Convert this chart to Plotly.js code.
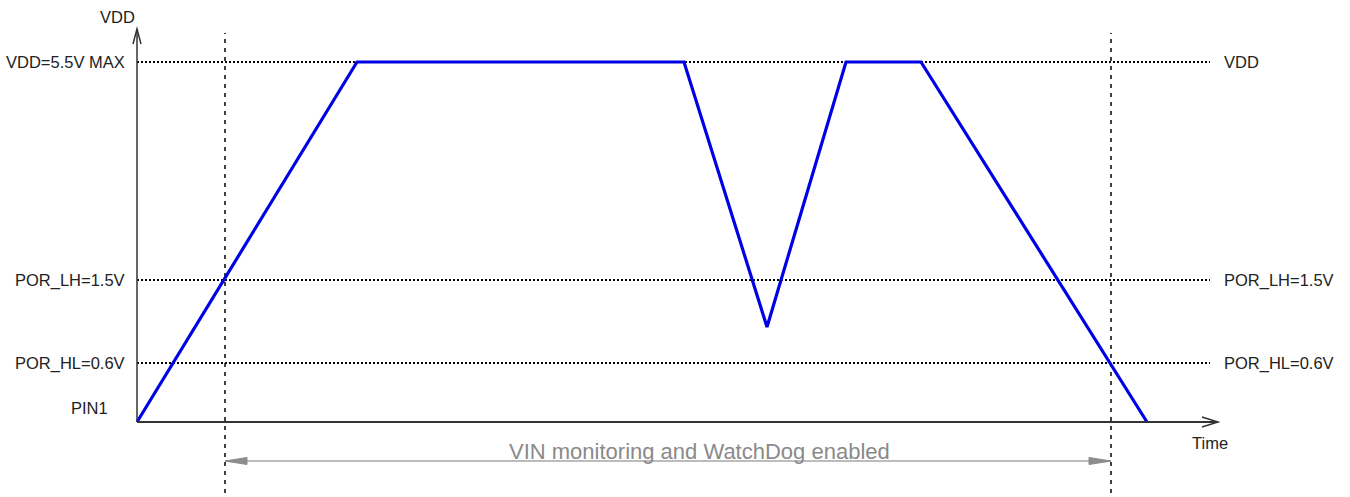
<!DOCTYPE html>
<html>
<head>
<meta charset="utf-8">
<script src="https://cdn.plot.ly/plotly-3.0.1.min.js"></script>
<style>html,body{margin:0;padding:0;background:#fff;}#chart{width:1350px;height:497px;}</style>
</head>
<body>
<div id="chart"></div>
<script>
// Diagram units: time and level heights (origin at the axes corner)
var times = [0, 220, 547, 630, 709, 784, 1010];
var vddTrace = [0, 360, 360, 95, 360, 360, 0];

var levelHeights = [360, 142, 59];
var levelLeftLabels = ["VDD=5.5V MAX", "POR_LH=1.5V", "POR_HL=0.6V"];
var levelRightLabels = ["VDD", "POR_LH=1.5V", "POR_HL=0.6V"];

var markerTimes = [88, 974];           // POR_LH crossing on ramp-up, POR_HL crossing on ramp-down
var spanLabel = "VIN monitoring and WatchDog enabled";
var yAxisLabel = "VDD";
var xAxisLabel = "Time";
var originLabel = "PIN1";

var FONT = "Liberation Sans, Arial, Helvetica, sans-serif";
var xEnd = 1081, yEnd = 393, levelEnd = 1073;
var spanY = -39;

var shapes = [];
// level dotted lines
levelHeights.forEach(function (h) {
  shapes.push({type: 'line', xref: 'x', yref: 'y', x0: 0, x1: levelEnd, y0: h, y1: h,
    layer: 'below', line: {color: '#000', width: 2, dash: '2px,2px'}});
});
// vertical marker dashed lines
markerTimes.forEach(function (t) {
  shapes.push({type: 'line', xref: 'x', yref: 'y', x0: t, x1: t, y0: -80, y1: 389,
    layer: 'below', line: {color: '#111', width: 1.6, dash: '4px,5px'}});
});
// axes
shapes.push({type: 'line', xref: 'x', yref: 'y', x0: 0, x1: xEnd, y0: 0, y1: 0, line: {color: '#333', width: 2}});
shapes.push({type: 'line', xref: 'x', yref: 'y', x0: 0, x1: 0, y0: 0, y1: yEnd, line: {color: '#333', width: 1.5}});
// open arrowheads on axes
shapes.push({type: 'path', xref: 'x', yref: 'y',
  path: 'M ' + (xEnd - 16) + ',5 L ' + xEnd + ',0 L ' + (xEnd - 16) + ',-5',
  line: {color: '#333', width: 1.5}});
shapes.push({type: 'path', xref: 'x', yref: 'y',
  path: 'M -4,' + (yEnd - 15) + ' L 0,' + yEnd + ' L 4,' + (yEnd - 15),
  line: {color: '#333', width: 1.5}});
// span double arrow
var s0 = markerTimes[0], s1 = markerTimes[1];
shapes.push({type: 'line', xref: 'x', yref: 'y', x0: s0, x1: s1, y0: spanY, y1: spanY,
  line: {color: '#a6a6a6', width: 1.5}});
shapes.push({type: 'path', xref: 'x', yref: 'y',
  path: 'M ' + s0 + ',' + spanY + ' L ' + (s0 + 22) + ',' + (spanY + 3.5) + ' L ' + (s0 + 22) + ',' + (spanY - 3.5) + ' Z',
  fillcolor: '#8c8c8c', line: {color: '#8c8c8c', width: 1}});
shapes.push({type: 'path', xref: 'x', yref: 'y',
  path: 'M ' + s1 + ',' + spanY + ' L ' + (s1 - 22) + ',' + (spanY + 3.5) + ' L ' + (s1 - 22) + ',' + (spanY - 3.5) + ' Z',
  fillcolor: '#8c8c8c', line: {color: '#8c8c8c', width: 1}});

var annotations = [];
var labFont = {family: FONT, size: 16.5, color: '#222'};
levelHeights.forEach(function (h, i) {
  annotations.push({xref: 'x', yref: 'y', x: -10, y: h, text: levelLeftLabels[i], showarrow: false,
    xanchor: 'right', yanchor: 'middle', font: labFont});
  annotations.push({xref: 'x', yref: 'y', x: 1085, y: h, text: levelRightLabels[i], showarrow: false,
    xanchor: 'left', yanchor: 'middle', font: labFont});
});
annotations.push({xref: 'x', yref: 'y', x: 0, y: 405, text: yAxisLabel, showarrow: false,
  xanchor: 'right', yanchor: 'middle', font: labFont});
annotations.push({xref: 'x', yref: 'y', x: 1073, y: -21, text: xAxisLabel, showarrow: false,
  xanchor: 'center', yanchor: 'middle', font: labFont});
annotations.push({xref: 'x', yref: 'y', x: -48, y: 14, text: originLabel, showarrow: false,
  xanchor: 'center', yanchor: 'middle', font: labFont});
annotations.push({xref: 'x', yref: 'y', x: 562, y: -29, text: spanLabel, showarrow: false,
  xanchor: 'center', yanchor: 'middle', font: {family: FONT, size: 22, color: '#8a8a8a'}});

var data = [{
  x: times, y: vddTrace, type: 'scatter', mode: 'lines',
  line: {color: '#0000e6', width: 3.2}, hoverinfo: 'skip', showlegend: false
}];

var layout = {
  width: 1350, height: 497,
  margin: {l: 0, r: 0, t: 0, b: 0, pad: 0},
  paper_bgcolor: '#ffffff', plot_bgcolor: '#ffffff',
  showlegend: false,
  xaxis: {range: [-137, 1213], visible: false, fixedrange: true},
  yaxis: {range: [-75, 422], visible: false, fixedrange: true},
  shapes: shapes,
  annotations: annotations
};

Plotly.newPlot('chart', data, layout, {displayModeBar: false, staticPlot: true});
</script>
</body>
</html>
